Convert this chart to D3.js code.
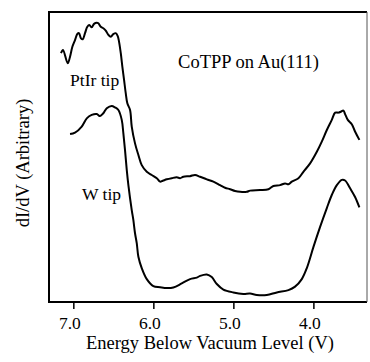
<!DOCTYPE html>
<html>
<head>
<meta charset="utf-8">
<script src="https://cdn.jsdelivr.net/npm/d3@7"></script>
<style>
  body { margin: 0; background: #fff; }
</style>
</head>
<body>
<div id="chart"></div>
<script>
// energies (V below vacuum) and dI/dV (arbitrary units)
var ptir_energy = [7.154, 7.129, 7.070, 7.041, 7.012, 6.979, 6.950, 6.929, 6.904, 6.882, 6.854, 6.825, 6.800, 6.770, 6.741, 6.707, 6.687, 6.657, 6.625, 6.595, 6.562, 6.532, 6.500, 6.470, 6.445, 6.429, 6.407, 6.387, 6.366, 6.345, 6.325, 6.291, 6.270, 6.229, 6.187, 6.145, 6.082, 6.020, 5.957, 5.916, 5.882, 5.832, 5.770, 5.707, 5.666, 5.625, 5.541, 5.479, 5.416, 5.332, 5.250, 5.166, 5.104, 5.041, 4.979, 4.916, 4.832, 4.791, 4.666, 4.562, 4.500, 4.416, 4.354, 4.312, 4.270, 4.187, 4.125, 4.041, 3.957, 3.895, 3.832, 3.770, 3.728, 3.687, 3.657, 3.625, 3.604, 3.570, 3.520, 3.478, 3.425];
var ptir_didv = [8.58, 8.69, 8.23, 8.46, 8.80, 9.03, 9.24, 9.27, 9.09, 9.06, 9.27, 9.49, 9.55, 9.47, 9.59, 9.63, 9.61, 9.49, 9.44, 9.36, 9.21, 9.15, 9.24, 9.27, 9.17, 8.98, 8.58, 8.11, 7.66, 7.20, 6.85, 6.62, 6.05, 5.47, 5.07, 4.72, 4.49, 4.38, 4.27, 4.15, 4.18, 4.23, 4.27, 4.30, 4.27, 4.32, 4.34, 4.38, 4.32, 4.23, 4.15, 4.03, 3.94, 3.89, 3.83, 3.80, 3.80, 3.84, 3.86, 3.89, 4.00, 4.03, 4.09, 4.06, 4.15, 4.27, 4.49, 4.78, 5.18, 5.53, 5.93, 6.28, 6.53, 6.53, 6.56, 6.60, 6.48, 6.28, 6.13, 5.87, 5.59];

var w_energy = [7.041, 6.979, 6.895, 6.832, 6.770, 6.707, 6.666, 6.625, 6.582, 6.520, 6.479, 6.437, 6.395, 6.375, 6.354, 6.332, 6.312, 6.270, 6.250, 6.229, 6.207, 6.187, 6.145, 6.082, 6.000, 5.916, 5.832, 5.750, 5.645, 5.541, 5.457, 5.416, 5.332, 5.270, 5.207, 5.125, 5.000, 4.875, 4.791, 4.707, 4.582, 4.457, 4.312, 4.229, 4.145, 4.082, 3.999, 3.916, 3.832, 3.770, 3.707, 3.645, 3.604, 3.541, 3.479, 3.425];
var w_didv = [5.79, 5.84, 6.05, 6.33, 6.45, 6.48, 6.41, 6.51, 6.68, 6.76, 6.71, 6.62, 6.28, 5.82, 5.24, 4.55, 4.03, 3.17, 2.83, 2.37, 2.02, 1.56, 1.17, 0.79, 0.55, 0.51, 0.48, 0.50, 0.64, 0.79, 0.84, 0.90, 0.95, 0.86, 0.62, 0.43, 0.33, 0.28, 0.29, 0.24, 0.24, 0.33, 0.41, 0.53, 0.79, 1.17, 1.90, 2.59, 3.24, 3.69, 4.03, 4.21, 4.19, 3.92, 3.62, 3.26];

var x_ticks = [7.0, 6.0, 5.0, 4.0];
var x_title = 'Energy Below Vacuum Level (V)';
var y_title = 'dI/dV (Arbitrary)';
var title = 'CoTPP on Au(111)';
var series_labels = ['PtIr tip', 'W tip'];

var serif = "'Liberation Serif', 'Times New Roman', Tinos, serif";

var width = 370, height = 362;
var margin = {top: 12, left: 49, bottom: 60, right: 3};
var g_width = width - margin.left - margin.right;
var g_height = height - margin.top - margin.bottom;

var svg = d3.select('#chart').append('svg')
  .attr('width', width)
  .attr('height', height);
var g = svg.append('g')
  .attr('transform', 'translate(' + margin.left + ',' + margin.top + ')');

var xScale = d3.scaleLinear().domain([7.304, 3.33]).range([0, g_width]);
var yScale = d3.scaleLinear().domain([0, 10]).range([g_height, 0]);

// frame: heavy left/top/bottom, faint right
g.append('path')
  .attr('d', 'M' + g_width + ',0H0V' + g_height + 'H' + g_width)
  .attr('fill', 'none')
  .attr('stroke', '#000')
  .attr('stroke-width', 2);
g.append('line')
  .attr('x1', g_width).attr('x2', g_width)
  .attr('y1', 0).attr('y2', g_height)
  .attr('stroke', '#555')
  .attr('stroke-width', 1);

// x axis
var xAxis = d3.axisBottom(xScale)
  .tickValues(x_ticks)
  .tickFormat(d3.format('.1f'))
  .tickSize(6);
var ax = g.append('g')
  .attr('transform', 'translate(0,' + (g_height + 1) + ')')
  .call(xAxis);
ax.select('.domain').remove();
ax.selectAll('.tick line').attr('stroke', '#000').attr('stroke-width', 1.5);
ax.selectAll('.tick text')
  .attr('y', 25.5)
  .attr('dy', 0)
  .attr('dx', -4)
  .attr('fill', '#000')
  .style('font-family', serif)
  .style('font-size', '17.5px');

g.append('text')
  .text(x_title)
  .attr('x', 161)
  .attr('y', g_height + 46.5)
  .attr('text-anchor', 'middle')
  .style('font-family', serif)
  .style('font-size', '18.5px');

g.append('text')
  .text(y_title)
  .attr('text-anchor', 'middle')
  .style('font-family', serif)
  .style('font-size', '18.5px')
  .attr('transform', 'translate(-20,151) rotate(-90)');

// curves
var line = d3.line()
  .x(function (d) { return xScale(d[0]); })
  .y(function (d) { return yScale(d[1]); })
  .curve(d3.curveCatmullRom.alpha(0.5));

var curves = [
  d3.zip(ptir_energy, ptir_didv),
  d3.zip(w_energy, w_didv)
];
g.selectAll('.curve')
  .data(curves)
  .enter()
  .append('path')
  .attr('class', 'curve')
  .attr('d', line)
  .attr('fill', 'none')
  .attr('stroke', '#000')
  .attr('stroke-width', 2)
  .attr('stroke-linejoin', 'round');

// annotations
g.append('text')
  .text(title)
  .attr('x', xScale(5.691))
  .attr('y', yScale(8.07))
  .style('font-family', serif)
  .style('font-size', '18.5px');
g.append('text')
  .text(series_labels[0])
  .attr('x', xScale(7.041))
  .attr('y', yScale(7.45))
  .style('font-family', serif)
  .style('font-size', '17.5px');
g.append('text')
  .text(series_labels[1])
  .attr('x', xScale(6.891))
  .attr('y', yScale(3.52))
  .style('font-family', serif)
  .style('font-size', '17.5px');
</script>
</body>
</html>
